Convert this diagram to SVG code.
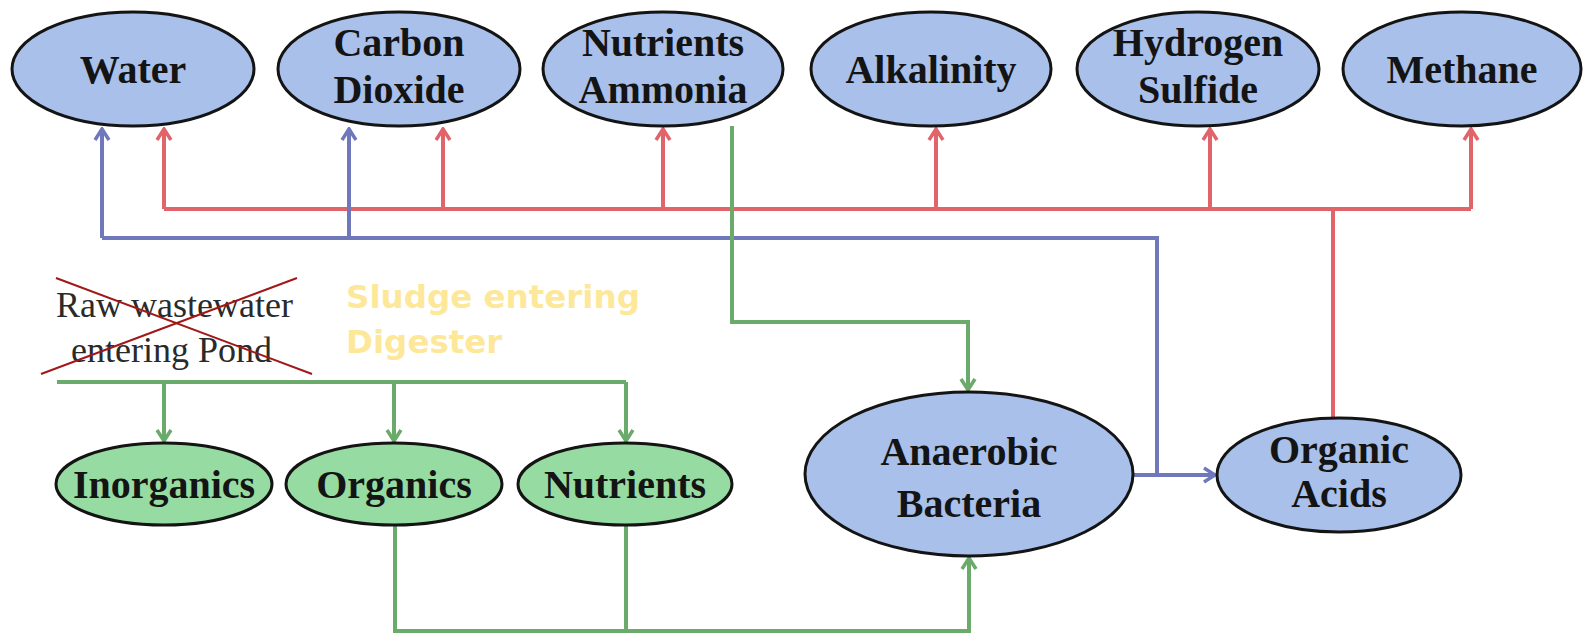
<svg xmlns="http://www.w3.org/2000/svg" width="1583" height="635" viewBox="0 0 1583 635">
<style>
.bn{fill:#a9c0ea;stroke:#141414;stroke-width:3}
.gn{fill:#96dca2;stroke:#141414;stroke-width:3}
.lb{font-family:"Liberation Serif","Times New Roman",serif;font-weight:bold;font-size:40px;fill:#141414;text-anchor:middle}
.red{fill:none;stroke:#e0646a;stroke-width:4}
.blue{fill:none;stroke:#7078bc;stroke-width:4}
.green{fill:none;stroke:#6aaa6a;stroke-width:4}
.raw{font-family:"Liberation Serif","Times New Roman",serif;font-size:36px;fill:#2a2a2a}
.sl{font-family:"DejaVu Sans",Verdana,sans-serif;font-weight:bold;font-size:32.5px;fill:#fde89a}
</style>
<defs>
<marker id="ar" markerUnits="userSpaceOnUse" viewBox="-14 -9 16 18" refX="0" refY="0" markerWidth="16" markerHeight="18" orient="auto">
<path d="M-11,-7 L0,0 L-11,7" fill="none" stroke="#e0646a" stroke-width="3.5"/>
</marker>
<marker id="ab" markerUnits="userSpaceOnUse" viewBox="-14 -9 16 18" refX="0" refY="0" markerWidth="16" markerHeight="18" orient="auto">
<path d="M-11,-7 L0,0 L-11,7" fill="none" stroke="#7078bc" stroke-width="3.5"/>
</marker>
<marker id="ag" markerUnits="userSpaceOnUse" viewBox="-14 -9 16 18" refX="0" refY="0" markerWidth="16" markerHeight="18" orient="auto">
<path d="M-11,-7 L0,0 L-11,7" fill="none" stroke="#6aaa6a" stroke-width="3.5"/>
</marker>
</defs>
<rect width="1583" height="635" fill="#ffffff"/>

<g id="connectors">
<path class="red" d="M164,209 H1471"/>
<path class="red" d="M1333,417 V209"/>
<path class="red" d="M164,209 V129" marker-end="url(#ar)"/>
<path class="red" d="M443,209 V129" marker-end="url(#ar)"/>
<path class="red" d="M663,209 V129" marker-end="url(#ar)"/>
<path class="red" d="M936,209 V129" marker-end="url(#ar)"/>
<path class="red" d="M1210,209 V129" marker-end="url(#ar)"/>
<path class="red" d="M1471,209 V129" marker-end="url(#ar)"/>

<path class="blue" d="M102,238 H1157 V475"/>
<path class="blue" d="M102,238 V129" marker-end="url(#ab)"/>
<path class="blue" d="M349,238 V129" marker-end="url(#ab)"/>
<path class="blue" d="M1133,475 H1215" marker-end="url(#ab)"/>

<path class="green" d="M732,126 V322 H968 V390" marker-end="url(#ag)"/>
<path class="green" d="M57,382 H626"/>
<path class="green" d="M164,382 V441" marker-end="url(#ag)"/>
<path class="green" d="M394,382 V441" marker-end="url(#ag)"/>
<path class="green" d="M626,382 V441" marker-end="url(#ag)"/>
<path class="green" d="M395,525 V631 H969 V558" marker-end="url(#ag)"/>
<path class="green" d="M626,525 V631"/>
</g>

<g id="water"><ellipse class="bn" cx="133" cy="69" rx="121" ry="57"/><text class="lb" x="133" y="83">Water</text></g>
<g id="carbon-dioxide"><ellipse class="bn" cx="399" cy="69" rx="121" ry="57"/><text class="lb" x="399" y="56">Carbon</text><text class="lb" x="399" y="103">Dioxide</text></g>
<g id="nutrients-ammonia"><ellipse class="bn" cx="663" cy="69" rx="120" ry="57"/><text class="lb" x="663" y="56">Nutrients</text><text class="lb" x="663" y="103">Ammonia</text></g>
<g id="alkalinity"><ellipse class="bn" cx="931" cy="69" rx="120" ry="57"/><text class="lb" x="931" y="83">Alkalinity</text></g>
<g id="hydrogen-sulfide"><ellipse class="bn" cx="1198" cy="69" rx="121" ry="57"/><text class="lb" x="1198" y="56">Hydrogen</text><text class="lb" x="1198" y="103">Sulfide</text></g>
<g id="methane"><ellipse class="bn" cx="1462" cy="69" rx="119" ry="57"/><text class="lb" x="1462" y="83">Methane</text></g>

<g id="raw-wastewater">
<text class="raw" x="56" y="317">Raw wastewater</text>
<text class="raw" x="71" y="362">entering Pond</text>
<line x1="56" y1="278" x2="312" y2="374" stroke="#a01818" stroke-width="2"/>
<line x1="41" y1="374" x2="297" y2="278" stroke="#a01818" stroke-width="2"/>
</g>
<g id="sludge-label">
<text class="sl" x="346" y="308">Sludge entering</text>
<text class="sl" x="346" y="353">Digester</text>
</g>

<g id="inorganics"><ellipse class="gn" cx="164" cy="484" rx="108" ry="41"/><text class="lb" x="164" y="498">Inorganics</text></g>
<g id="organics"><ellipse class="gn" cx="394" cy="484" rx="108" ry="41"/><text class="lb" x="394" y="498">Organics</text></g>
<g id="nutrients"><ellipse class="gn" cx="625" cy="484" rx="107" ry="41"/><text class="lb" x="625" y="498">Nutrients</text></g>

<g id="anaerobic-bacteria"><ellipse class="bn" cx="969" cy="474" rx="164" ry="82"/><text class="lb" x="969" y="465">Anaerobic</text><text class="lb" x="969" y="517">Bacteria</text></g>
<g id="organic-acids"><ellipse class="bn" cx="1339" cy="475" rx="122" ry="57"/><text class="lb" x="1339" y="463">Organic</text><text class="lb" x="1339" y="507">Acids</text></g>
</svg>
